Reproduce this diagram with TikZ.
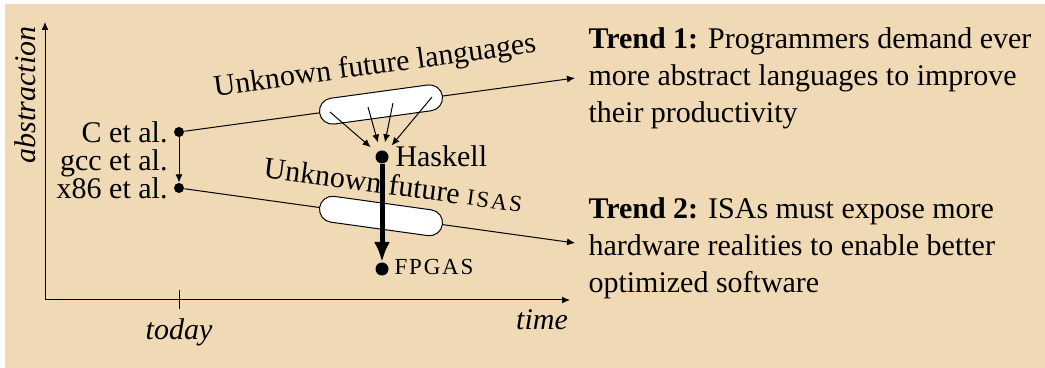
\documentclass[tikz,border=0pt]{standalone}
\usepackage{fontspec}
\setmainfont{Liberation Serif}
\usetikzlibrary{arrows.meta}

\definecolor{paper}{RGB}{240,217,181}
\newcommand{\fauxsc}[1]{{\fontsize{11.5}{13}\selectfont\addfontfeature{LetterSpace=8}#1}}

\tikzset{every picture/.style={line width=0.5pt}}
\tikzset{
	txt/.style={font=\fontsize{15}{18.5}\selectfont, inner sep=0pt},
	dot/.style={circle, fill=black, inner sep=0pt, minimum size=5pt},
	bigdot/.style={dot, minimum size=6.5pt},
	pill/.style={draw, fill=white, rounded corners=6.5pt, inner sep=0pt,
		minimum width=62pt, minimum height=13pt},
	thin arrow/.style={-{Latex[length=4pt,width=3.5pt]}},
	thick arrow/.style={line width=2.5pt, -{Latex[length=10pt,width=8pt]}}}

\begin{document}
\begin{tikzpicture}[x=0.5pt,y=0.5pt,yscale=-1,xscale=1]
	\useasboundingbox (0,0) rectangle (1045,368);
	%Shape: Rectangle [paper]
	\fill [paper] (5,4) rectangle (1045,368);

	%Axes
	\draw [thin arrow] (45,300) -- (45,22);
	\draw [thin arrow] (45,300) -- (570,300);
	\draw (179,290) -- (179,309);

	% Text Node
	\draw (35,95) node [txt, rotate=90, anchor=base, font=\fontsize{15}{18.5}\itshape] (absLbl) {abstraction};
	% Text Node
	\draw (179,340) node [txt, anchor=base, font=\fontsize{15}{18.5}\itshape] (todayLbl) {today};
	% Text Node
	\draw (542,330) node [txt, anchor=base, font=\fontsize{15}{18.5}\itshape] (timeLbl) {time};

	%Dots
	\draw (179,132) node [dot] (cDot) {};
	\draw (179,188) node [dot] (xDot) {};
	\draw (382,157) node [bigdot] (haskDot) {};
	\draw (382,269) node [bigdot] (fpgaDot) {};
	\coordinate (trendA) at (575,78);
	\coordinate (trendB) at (575,243);

	%Lines
	\draw [thin arrow] (cDot) -- (xDot);
	\draw [thin arrow] (cDot) -- (trendA);
	\draw [thin arrow] (xDot) -- (trendB);

	%Shape: Pill
	\draw (381,104.5) node [pill, rotate=7.8] (langPill) {};
	%Shape: Pill
	\draw (381,216) node [pill, rotate=-7.9] (isaPill) {};

	%Arrows into Haskell
	\coordinate (l1) at (330,112);
	\coordinate (l2) at (368,107);
	\coordinate (l3) at (393,103);
	\coordinate (l4) at (432,97);
	\foreach \p in {l1,l2,l3,l4}
		\draw [thin arrow, shorten >=4pt] (\p) -- (haskDot);

	% Text Node
	\draw (168,143) node [txt, anchor=base east] (cLbl) {C et al.};
	% Text Node
	\draw (168,171) node [txt, anchor=base east] (gccLbl) {gcc et al.};
	% Text Node
	\draw (168,199) node [txt, anchor=base east] (xLbl) {x86 et al.};
	% Text Node
	\draw (376,74) node [txt, anchor=base, rotate=7.8] (langLbl) {Unknown future languages};
	% Text Node
	\draw (392,195) node [txt, anchor=base, rotate=-7.6] (isaLbl) {Unknown future \fauxsc{ISAS}};
	% Text Node
	\draw (395,167) node [txt, anchor=base west] (haskLbl) {Haskell};
	% Text Node
	\draw (394,275) node [txt, anchor=base west] (fpgaLbl) {\fauxsc{FPGAS}};

	%Thick arrow
	\draw [thick arrow] (haskDot) -- (fpgaDot);

	% Text Node
	\draw (588,27) node [txt, anchor=north west, align=left] (trendOne)
		{\textbf{Trend 1:} Programmers demand ever\\ more abstract languages to improve\\ their productivity};
	% Text Node
	\draw (588,197) node [txt, anchor=north west, align=left] (trendTwo)
		{\textbf{Trend 2:} ISAs must expose more\\ hardware realities to enable better\\ optimized software};

\end{tikzpicture}
\end{document}
